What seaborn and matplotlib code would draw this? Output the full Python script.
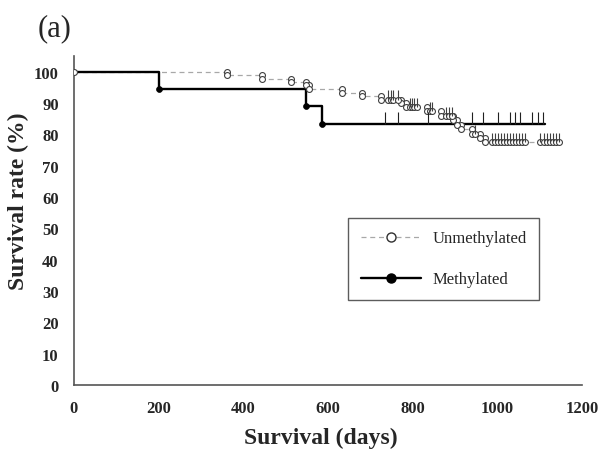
import numpy as np
import pandas as pd
import matplotlib
matplotlib.use("Agg")
import matplotlib.pyplot as plt
import seaborn as sns
from matplotlib.path import Path
from matplotlib.lines import Line2D

# ---------------- data ----------------
# Unmethylated group: step times (days) and survival (%) after each step
unmeth_times = [0, 362, 445, 512, 548, 556, 632, 680, 725, 772, 785, 835, 866, 895, 905, 915, 940, 958, 970]
unmeth_surv = [100, 98.9, 97.8, 96.7, 95.6, 94.4, 93.3, 92.2, 91.1, 90.0, 88.7, 87.3, 85.9, 84.5, 83.1, 81.7, 80.2, 78.9, 77.5]
unmeth_last = 1145
unmeth_censor = [742, 749, 754, 765, 794, 799, 803, 810, 841, 845, 879, 886, 893, 947,
                 987, 994, 1001, 1008, 1015, 1022, 1030, 1037, 1044, 1051, 1058, 1066,
                 1100, 1110, 1117, 1124, 1131, 1138, 1145]

# Methylated group
meth_times = [0, 200, 548, 585]
meth_surv = [100, 94.4, 88.9, 83.3]
meth_last = 1113
meth_censor = [735, 765, 836, 940, 966, 1002, 1030, 1042, 1054, 1082, 1096, 1108]

x_ticks = [0, 200, 400, 600, 800, 1000, 1200]
y_ticks = [0, 10, 20, 30, 40, 50, 60, 70, 80, 90, 100]

# ---------------- helpers ----------------
def level_at(times, surv, t):
    idx = np.searchsorted(times, t, side="right") - 1
    return np.asarray(surv)[idx]

sns.set_theme(style="white")
plt.rcParams["font.family"] = ["Liberation Serif", "DejaVu Serif"]

fig = plt.figure(figsize=(6.07, 4.52), dpi=100)
ax = fig.add_axes([0.1219, 0.146, 0.8369, 0.728])

tick_path = Path([(0, 0), (0, 1)], [Path.MOVETO, Path.LINETO])

# Unmethylated curve
u_line = pd.DataFrame({"day": unmeth_times + [unmeth_last],
                       "surv": unmeth_surv + [unmeth_surv[-1]]})
sns.lineplot(data=u_line, x="day", y="surv", drawstyle="steps-post", color="#a8a8a8",
             linestyle=(0, (4, 3)), linewidth=0.9, ax=ax, estimator=None, sort=False)

# Methylated curve
m_line = pd.DataFrame({"day": meth_times + [meth_last],
                       "surv": meth_surv + [meth_surv[-1]]})
sns.lineplot(data=m_line, x="day", y="surv", drawstyle="steps-post", color="black",
             linewidth=1.7, ax=ax, estimator=None, sort=False)

# Unmethylated markers: open circles at both levels of each step, and at censored points
u_ev = pd.DataFrame({"day": unmeth_times[1:] + unmeth_times[1:],
                     "surv": unmeth_surv[:-1] + unmeth_surv[1:]})
u_c = pd.DataFrame({"day": unmeth_censor,
                    "surv": [level_at(unmeth_times, unmeth_surv, t) for t in unmeth_censor]})
sns.scatterplot(data=pd.concat([u_ev, u_c, pd.DataFrame({"day": [0], "surv": [100]})]),
                x="day", y="surv", marker="o", s=18, facecolor="white",
                edgecolor="#404040", linewidth=0.8, ax=ax, zorder=4)
sns.scatterplot(data=u_c, x="day", y="surv", marker=tick_path, s=170,
                facecolor="none", edgecolor="#404040", linewidth=0.8, ax=ax, zorder=4)

# Methylated markers
m_ev = pd.DataFrame({"day": meth_times[1:], "surv": meth_surv[1:]})
sns.scatterplot(data=m_ev, x="day", y="surv", marker="o", s=18, color="black",
                edgecolor="black", linewidth=0.5, ax=ax, zorder=5)
m_c = pd.DataFrame({"day": meth_censor,
                    "surv": [level_at(meth_times, meth_surv, t) for t in meth_censor]})
sns.scatterplot(data=m_c, x="day", y="surv", marker=tick_path, s=300,
                facecolor="none", edgecolor="#202020", linewidth=0.8, ax=ax, zorder=5)

# ---------------- axes styling ----------------
ax.set_xlim(0, 1200)
ax.set_ylim(0, 105)
ax.set_xticks(x_ticks)
ax.set_yticks(y_ticks)
ax.set_xticklabels([str(v) for v in x_ticks], fontweight="bold", fontsize=12)
ax.set_yticklabels([str(v) for v in y_ticks], fontweight="bold", fontsize=12)
ax.tick_params(direction="in", length=4, width=1, color="#555555", pad=11)
for side in ["top", "right"]:
    ax.spines[side].set_visible(False)
for side in ["left", "bottom"]:
    ax.spines[side].set_color("#555555")
    ax.spines[side].set_linewidth(1.2)
ax.grid(False)
ax.set_xlabel("Survival (days)", fontweight="bold", fontsize=17, labelpad=6)
ax.xaxis.set_label_coords(0.485, -0.127)
ax.xaxis.label.set_va("top")
ax.set_ylabel("Survival rate (%)", fontweight="bold", fontsize=17)
ax.yaxis.set_label_coords(-0.088, 0.56)

handles = [Line2D([0], [0], color="#a8a8a8", linestyle=(0, (4, 3)), linewidth=0.9,
                  marker="o", markersize=6.5, markerfacecolor="white",
                  markeredgecolor="#303030", markeredgewidth=1.0),
           Line2D([0], [0], color="black", linewidth=1.7, marker="o", markersize=6.5,
                  markerfacecolor="black", markeredgecolor="black")]
leg = ax.legend(handles, ["Unmethylated", "Methylated"], loc="upper left",
                bbox_to_anchor=(0.54, 0.508), frameon=True, fancybox=False,
                edgecolor="#333333", fontsize=12, handlelength=3.6, labelspacing=1.5,
                handletextpad=0.7, borderpad=0.75, borderaxespad=0)
leg.get_frame().set_linewidth(1.0)

fig.text(0.0626, 0.92, "(a)", fontsize=22)

fig.savefig("out.png", dpi=100)
